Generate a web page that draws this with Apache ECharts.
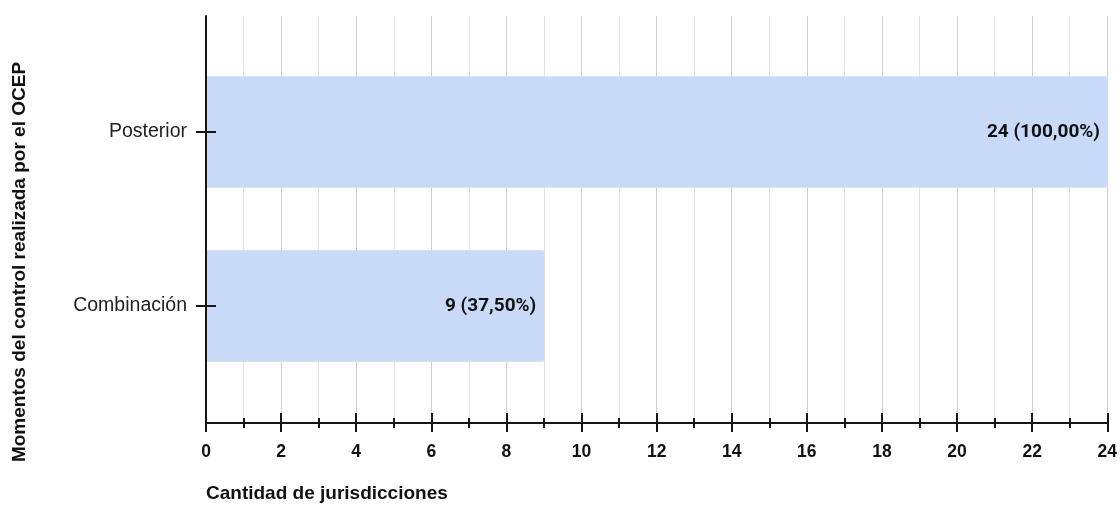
<!DOCTYPE html>
<html>
<head>
<meta charset="utf-8">
<script src="https://cdn.jsdelivr.net/npm/echarts@6/dist/echarts.min.js"></script>
<style>
  html, body { margin: 0; padding: 0; background: #fff; }
  #chart { width: 1120px; height: 510px; }
</style>
</head>
<body>
<div id="chart"></div>
<script>
// Momentos del control: cantidad de jurisdicciones por tipo
const categories = ['Posterior', 'Combinación'];
const counts = [24, 9];
const shares = ['100,00%', '37,50%'];
const xMin = 0;
const xMax = 24;
const xTitle = 'Cantidad de jurisdicciones';
const yTitle = 'Momentos del control realizada por el OCEP';

const AXIS = '#161616';
const AXIS_W = 2;
const BAR = '#c9daf8';
const SANS = '"Liberation Sans", Arial, sans-serif';

const chart = echarts.init(document.getElementById('chart'));

const hiddenValueX = (gridIndex, extra) => Object.assign({
  type: 'value', gridIndex, min: xMin, max: xMax, position: 'bottom',
  axisLine: { show: false }, axisLabel: { show: false },
  axisTick: { show: false }, splitLine: { show: false }
}, extra || {});

chart.setOption({
  animation: false,
  grid: [
    { left: 206, right: 12, top: 16, bottom: 87 },
    { left: 206, right: 12, top: 45, bottom: 117 }
  ],
  title: {
    text: xTitle, left: 206, top: 484, padding: 0,
    textStyle: { fontFamily: SANS, fontSize: 19, fontWeight: 'bold', color: '#111' }
  },
  xAxis: [
    // main value axis: line, labels and grid lines
    {
      type: 'value', gridIndex: 0, min: xMin, max: xMax, interval: 2, position: 'bottom',
      axisLine: { show: true, onZero: false, lineStyle: { color: AXIS, width: AXIS_W } },
      axisTick: { show: false },
      axisLabel: { margin: 20, color: '#111', fontSize: 17.5, fontWeight: 'bold', fontFamily: SANS },
      splitLine: { show: true, lineStyle: { color: '#cfcfcf', width: 1 } },
      minorTick: { show: false, splitNumber: 2 },
      minorSplitLine: { show: true, lineStyle: { color: '#e3e3e3', width: 1 } }
    },
    // long ticks on labelled values, crossing the axis line
    hiddenValueX(0, { interval: 2, offset: -10, axisTick: { show: true, length: 19, lineStyle: { color: AXIS, width: AXIS_W } } }),
    // short ticks on every unit
    hiddenValueX(0, { interval: 1, offset: -5, axisTick: { show: true, length: 10, lineStyle: { color: AXIS, width: AXIS_W } } }),
    // scale used by the bars
    hiddenValueX(1)
  ],
  yAxis: [
    {
      type: 'value', gridIndex: 0, min: 0, max: 1, z: 4,
      axisLine: { show: true, lineStyle: { color: AXIS, width: AXIS_W } },
      axisLabel: { show: false }, axisTick: { show: false }, splitLine: { show: false }
    },
    {
      type: 'category', gridIndex: 1, data: categories, inverse: true,
      offset: -10, z: 4,
      axisLine: { show: false },
      axisTick: { show: true, alignWithLabel: true, length: 20, lineStyle: { color: AXIS, width: AXIS_W } },
      axisLabel: { margin: 29, color: '#222', fontSize: 19.5, fontFamily: SANS },
      splitLine: { show: false }
    }
  ],
  graphic: [{
    type: 'text', x: 20, y: 262, rotation: Math.PI / 2,
    style: {
      text: yTitle, textAlign: 'center', textVerticalAlign: 'middle',
      font: 'bold 19px "Liberation Sans", Arial, sans-serif', fill: '#111'
    }
  }],
  series: [{
    type: 'bar', xAxisIndex: 3, yAxisIndex: 1,
    data: counts,
    barCategoryGap: '36%',
    itemStyle: { color: BAR, borderRadius: [0, 2, 2, 0] },
    label: {
      show: true, position: 'insideRight', distance: 8,
      color: '#111', fontSize: 19, fontWeight: 'bold', fontFamily: 'Roboto, Arial, sans-serif',
      formatter: p => `${p.value} (${shares[p.dataIndex]})`
    }
  }]
});
</script>
</body>
</html>
